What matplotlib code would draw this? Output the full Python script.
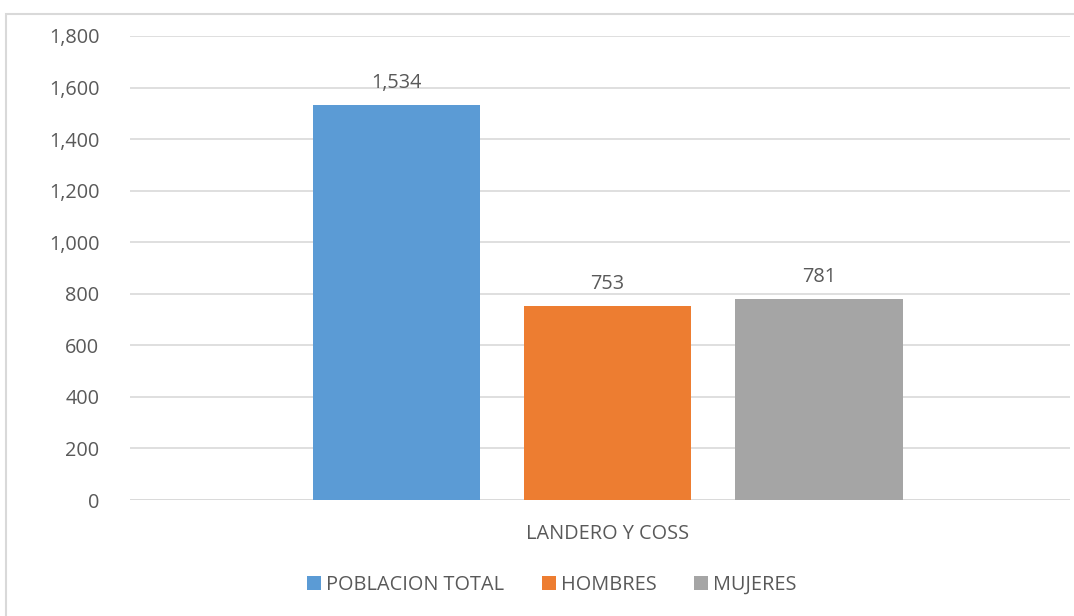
import matplotlib
matplotlib.use("Agg")
import matplotlib.pyplot as plt
from matplotlib.patches import Rectangle
from matplotlib.ticker import FuncFormatter

categories = ["LANDERO Y COSS"]
series_names = ["POBLACION TOTAL", "HOMBRES", "MUJERES"]
series_values = [1534, 753, 781]
colors = ["#5B9BD5", "#ED7D31", "#A5A5A5"]
yticks = [0, 200, 400, 600, 800, 1000, 1200, 1400, 1600, 1800]

plt.rcParams['font.family'] = ['Open Sans', 'DejaVu Sans']
txt = "#595959"
fs = 14.3

fig = plt.figure(figsize=(10.74, 6.16), dpi=100)
fig.patches.append(Rectangle((6/1074, -0.01), 1.02, 1 - 14/616 + 0.01, transform=fig.transFigure,
                             fill=False, edgecolor="#D9D9D9", linewidth=1.5))
ax = fig.add_axes([130/1074, 1 - 500/616, (1070 - 130)/1074, (500 - 36)/616])

width = 0.79
positions = [-1, 0, 1]
for pos, name, val, c in zip(positions, series_names, series_values, colors):
    ax.bar(pos, val, width=width, color=c, label=name, zorder=3)
    ax.text(pos, val + 45, f"{val:,}", ha="center", va="bottom", fontsize=fs, color=txt)

ax.set_xlim(-2.258, 2.187)
ax.set_ylim(0, 1800)
ax.set_yticks(yticks)
ax.yaxis.set_major_formatter(FuncFormatter(lambda v, p: f"{int(v):,}"))
ax.set_xticks([0])
ax.set_xticklabels(categories)
ax.tick_params(axis='both', length=0, labelsize=fs, colors=txt)
ax.tick_params(axis='y', pad=22)
ax.tick_params(axis='x', pad=17)
for s in ax.spines.values():
    s.set_visible(False)
ax.grid(axis='y', color="#D9D9D9", linewidth=1.2, zorder=0)
ax.axhline(0, color="#D9D9D9", linewidth=1.2, zorder=1)

fig.legend(loc="center", bbox_to_anchor=(552/1074, 1 - 585/616), ncol=3, frameon=False,
           fontsize=fs, handlelength=0.7, handleheight=0.7, handletextpad=0.25,
           columnspacing=1.9, labelcolor=txt)

fig.savefig("out.png", dpi=100)
